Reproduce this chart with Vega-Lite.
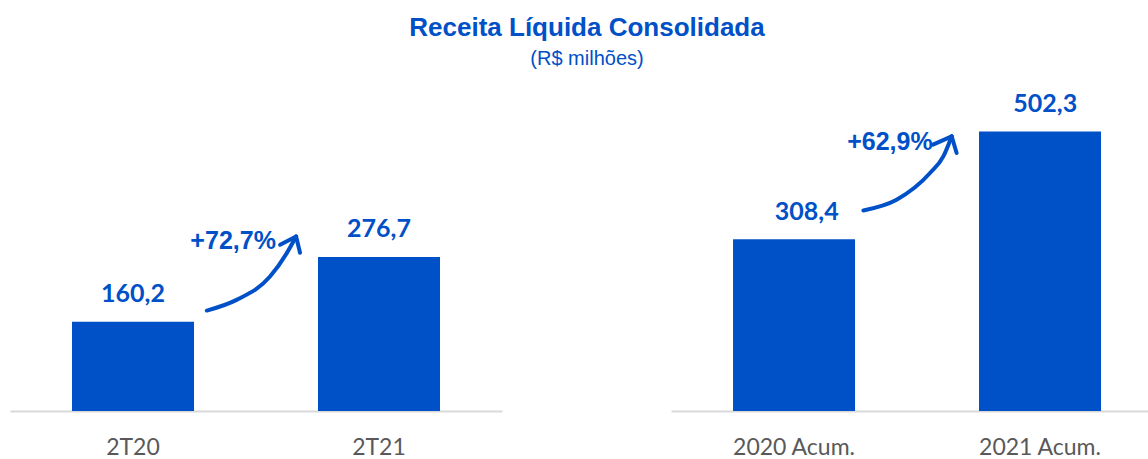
{
  "$schema": "https://vega.github.io/schema/vega-lite/v6.json",
  "background": "white",
  "padding": {"left": 10, "top": 15, "right": 0, "bottom": 0},
  "config": {
    "view": {"stroke": null},
    "locale": {"number": {"decimal": ",", "thousands": ".", "grouping": [3], "currency": ["R$", ""]}},
    "axis": {"grid": false}
  },
  "title": {
    "text": "Receita Líquida Consolidada",
    "subtitle": "(R$ milhões)",
    "anchor": "middle",
    "dx": 8,
    "font": "Liberation Sans",
    "fontSize": 26,
    "fontWeight": "bold",
    "color": "#0050C8",
    "subtitleFont": "Liberation Sans",
    "subtitleFontSize": 20,
    "subtitleColor": "#0050C8",
    "subtitlePadding": 8,
    "offset": 8
  },
  "datasets": {
    "bars": [
      {"panel": "L", "cat": "2T20", "value": 160.2},
      {"panel": "L", "cat": "2T21", "value": 276.7},
      {"panel": "R", "cat": "2020 Acum.", "value": 308.4},
      {"panel": "R", "cat": "2021 Acum.", "value": 502.3}
    ],
    "arrows": [
      {"panel": "L", "seg": "curve", "ord": 1, "x": 0.800, "y": 180.4},
      {"panel": "L", "seg": "curve", "ord": 2, "x": 0.921, "y": 199.6},
      {"panel": "L", "seg": "curve", "ord": 3, "x": 1.057, "y": 241.5},
      {"panel": "L", "seg": "curve", "ord": 4, "x": 1.125, "y": 283.6},
      {"panel": "L", "seg": "curve", "ord": 5, "x": 1.163, "y": 313.5},
      {"panel": "L", "seg": "barbL", "ord": 1, "x": 1.098, "y": 298.6},
      {"panel": "L", "seg": "barbL", "ord": 2, "x": 1.163, "y": 313.5},
      {"panel": "L", "seg": "barbR", "ord": 1, "x": 1.163, "y": 313.5},
      {"panel": "L", "seg": "barbR", "ord": 2, "x": 1.179, "y": 284.2},
      {"panel": "R", "seg": "curve", "ord": 1, "x": 0.782, "y": 360.3},
      {"panel": "R", "seg": "curve", "ord": 2, "x": 0.917, "y": 379.5},
      {"panel": "R", "seg": "curve", "ord": 3, "x": 1.053, "y": 427.5},
      {"panel": "R", "seg": "curve", "ord": 4, "x": 1.107, "y": 457.4},
      {"panel": "R", "seg": "curve", "ord": 5, "x": 1.141, "y": 493.3},
      {"panel": "R", "seg": "barbL", "ord": 1, "x": 1.065, "y": 478.4},
      {"panel": "R", "seg": "barbL", "ord": 2, "x": 1.141, "y": 493.3},
      {"panel": "R", "seg": "barbR", "ord": 1, "x": 1.141, "y": 493.3},
      {"panel": "R", "seg": "barbR", "ord": 2, "x": 1.161, "y": 463.5}
    ],
    "pcts": [
      {"panel": "L", "x": 0.907, "y": 305.8, "pct": 0.727},
      {"panel": "R", "x": 0.890, "y": 483.0, "pct": 0.629}
    ]
  },
  "hconcat": [
    {
      "width": 492,
      "height": 334,
      "resolve": {"scale": {"x": "independent"}},
      "layer": [
        {
          "data": {"name": "bars"},
          "transform": [{"filter": "datum.panel === 'L'"}],
          "mark": {"type": "bar", "color": "#0050C8"},
          "encoding": {
            "x": {"field": "cat", "type": "nominal", "sort": null,
                  "scale": {"paddingInner": 0.504, "paddingOuter": 0.252},
                  "axis": {"title": null, "ticks": false, "labelAngle": 0, "labelFont": "Lato", "labelFontSize": 23, "labelColor": "#595959", "labelPadding": 25, "domainColor": "#D9D9D9", "domainWidth": 2}},
            "y": {"field": "value", "type": "quantitative", "scale": {"domain": [0, 600], "nice": false}, "axis": null}
          }
        },
        {
          "data": {"name": "bars"},
          "transform": [{"filter": "datum.panel === 'L'"}],
          "mark": {"type": "text", "font": "Lato", "fontWeight": "bold", "fontSize": 25, "color": "#0050C8", "baseline": "alphabetic", "dy": -20},
          "encoding": {
            "x": {"field": "cat", "type": "nominal", "sort": null, "scale": {"paddingInner": 0.504, "paddingOuter": 0.252}, "axis": null},
            "y": {"field": "value", "type": "quantitative"},
            "text": {"field": "value", "type": "quantitative", "format": ".1f"}
          }
        },
        {
          "data": {"name": "arrows"},
          "transform": [{"filter": "datum.panel === 'L'"}],
          "mark": {"type": "line", "color": "#0050C8", "strokeWidth": 4, "strokeCap": "round", "strokeJoin": "round", "interpolate": "monotone"},
          "encoding": {
            "x": {"field": "x", "type": "quantitative", "scale": {"domain": [0, 2], "nice": false, "zero": false}, "axis": null},
            "y": {"field": "y", "type": "quantitative"},
            "detail": {"field": "seg"},
            "order": {"field": "ord"}
          }
        },
        {
          "data": {"name": "pcts"},
          "transform": [{"filter": "datum.panel === 'L'"}],
          "mark": {"type": "text", "font": "Liberation Sans", "fontWeight": "bold", "fontSize": 25, "color": "#0050C8", "baseline": "middle", "align": "center"},
          "encoding": {
            "x": {"field": "x", "type": "quantitative", "scale": {"domain": [0, 2], "nice": false, "zero": false}, "axis": null},
            "y": {"field": "y", "type": "quantitative"},
            "text": {"field": "pct", "type": "quantitative", "format": "+.1%"}
          }
        }
      ]
    },
    {
      "width": 477,
      "height": 334,
      "resolve": {"scale": {"x": "independent"}},
      "layer": [
        {
          "data": {"name": "bars"},
          "transform": [{"filter": "datum.panel === 'R'"}],
          "mark": {"type": "bar", "color": "#0050C8"},
          "encoding": {
            "x": {"field": "cat", "type": "nominal", "sort": null,
                  "scale": {"paddingInner": 0.504, "paddingOuter": 0.2216, "align": 0.569},
                  "axis": {"title": null, "ticks": false, "labelAngle": 0, "labelFont": "Lato", "labelFontSize": 23, "labelColor": "#595959", "labelPadding": 25, "domainColor": "#D9D9D9", "domainWidth": 2}},
            "y": {"field": "value", "type": "quantitative", "scale": {"domain": [0, 600], "nice": false}, "axis": null}
          }
        },
        {
          "data": {"name": "bars"},
          "transform": [{"filter": "datum.panel === 'R'"}],
          "mark": {"type": "text", "font": "Lato", "fontWeight": "bold", "fontSize": 25, "color": "#0050C8", "baseline": "alphabetic", "dy": -19},
          "encoding": {
            "x": {"field": "cat", "type": "nominal", "sort": null, "scale": {"paddingInner": 0.504, "paddingOuter": 0.2216, "align": 0.569}, "axis": null},
            "y": {"field": "value", "type": "quantitative"},
            "text": {"field": "value", "type": "quantitative", "format": ".1f"}
          }
        },
        {
          "data": {"name": "arrows"},
          "transform": [{"filter": "datum.panel === 'R'"}],
          "mark": {"type": "line", "color": "#0050C8", "strokeWidth": 4, "strokeCap": "round", "strokeJoin": "round", "interpolate": "monotone"},
          "encoding": {
            "x": {"field": "x", "type": "quantitative", "scale": {"domain": [0, 1.939], "nice": false, "zero": false}, "axis": null},
            "y": {"field": "y", "type": "quantitative"},
            "detail": {"field": "seg"},
            "order": {"field": "ord"}
          }
        },
        {
          "data": {"name": "pcts"},
          "transform": [{"filter": "datum.panel === 'R'"}],
          "mark": {"type": "text", "font": "Liberation Sans", "fontWeight": "bold", "fontSize": 25, "color": "#0050C8", "baseline": "middle", "align": "center"},
          "encoding": {
            "x": {"field": "x", "type": "quantitative", "scale": {"domain": [0, 1.939], "nice": false, "zero": false}, "axis": null},
            "y": {"field": "y", "type": "quantitative"},
            "text": {"field": "pct", "type": "quantitative", "format": "+.1%"}
          }
        }
      ]
    }
  ],
  "spacing": 169
}
